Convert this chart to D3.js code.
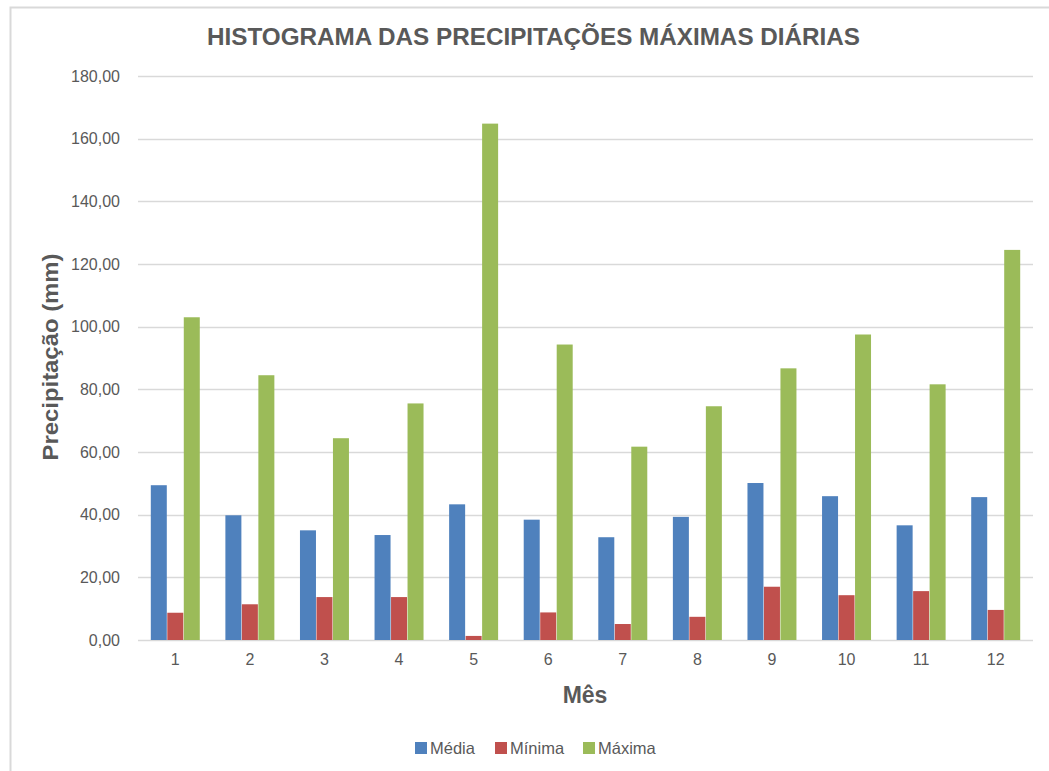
<!DOCTYPE html>
<html>
<head>
<meta charset="utf-8">
<script src="https://cdn.jsdelivr.net/npm/d3@7"></script>
<style>
  body { margin: 0; background: #fff; }
  svg { display: block; }
  text { font-family: "Liberation Sans", Arial, sans-serif; fill: #595959; }
</style>
</head>
<body>
<svg id="chart" width="1049" height="771"></svg>
<script>
let months = ['1', '2', '3', '4', '5', '6', '7', '8', '9', '10', '11', '12'];
let seriesNames = ['Média', 'Mínima', 'Máxima'];
let media  = [49.4, 39.8, 35.0, 33.5, 43.3, 38.4, 32.8, 39.3, 50.1, 45.9, 36.6, 45.6];
let minima = [8.7, 11.4, 13.7, 13.7, 1.3, 8.8, 5.1, 7.4, 17.0, 14.3, 15.6, 9.6];
let maxima = [103.0, 84.5, 64.4, 75.5, 164.8, 94.3, 61.7, 74.6, 86.7, 97.5, 81.6, 124.5];
let yTicks = [0, 20, 40, 60, 80, 100, 120, 140, 160, 180];

let colors = ['#4F81BD', '#C0504D', '#9BBB59'];
let seriesValues = [media, minima, maxima];

let svg = d3.select('#chart');

let margin = {left: 138, right: 1033, top: 76, bottom: 640};

let x = d3.scaleBand()
	.domain(months)
	.range([margin.left, margin.right])
	.paddingInner(0.33)
	.paddingOuter(0.165);

let xs = d3.scaleBand()
	.domain(seriesNames)
	.range([0, x.bandwidth()])
	.padding(0.03);

let y = d3.scaleLinear()
	.domain([0, 180])
	.range([margin.bottom, margin.top]);

let fmt = d => d3.format('.2f')(d).replace('.', ',');

// chart frame (left + top edges only, the rest is cropped)
svg.append('path')
	.attr('d', 'M10.5,771 V7.5 H1049')
	.attr('fill', 'none')
	.attr('stroke', '#d9d9d9')
	.attr('stroke-width', 2);

// gridlines
svg.append('g')
	.selectAll('line')
	.data(yTicks)
	.join('line')
	.attr('x1', margin.left)
	.attr('x2', margin.right)
	.attr('y1', d => Math.round(y(d)) + 0.5)
	.attr('y2', d => Math.round(y(d)) + 0.5)
	.attr('stroke', '#d9d9d9')
	.attr('stroke-width', 1.5);

// y axis labels
let yAxis = svg.append('g')
	.attr('transform', `translate(${margin.left - 18},0)`)
	.call(d3.axisLeft(y).tickValues(yTicks).tickFormat(fmt).tickSize(0).tickPadding(0));
yAxis.select('.domain').remove();
yAxis.selectAll('text')
	.attr('font-size', 16)
	.attr('fill', '#666')
	.style('font-family', '"Liberation Sans", Arial, sans-serif');

// x axis labels
let xAxis = svg.append('g')
	.attr('transform', `translate(0,${margin.bottom + 14})`)
	.call(d3.axisBottom(x).tickSize(0).tickPadding(0));
xAxis.select('.domain').remove();
xAxis.selectAll('text')
	.attr('font-size', 16)
	.attr('fill', '#666')
	.style('font-family', '"Liberation Sans", Arial, sans-serif');

// bars
seriesNames.forEach(function(name, s) {
	svg.append('g')
		.attr('fill', colors[s])
		.selectAll('rect')
		.data(seriesValues[s])
		.join('rect')
		.attr('x', (d, i) => x(months[i]) + xs(name))
		.attr('width', xs.bandwidth())
		.attr('y', d => y(d))
		.attr('height', d => y(0) - y(d));
});

// title
svg.append('text')
	.attr('x', 533.5)
	.attr('y', 45)
	.attr('text-anchor', 'middle')
	.attr('font-size', 23)
	.attr('font-weight', 'bold')
	.attr('textLength', 653)
	.attr('lengthAdjust', 'spacingAndGlyphs')
	.text('HISTOGRAMA DAS PRECIPITAÇÕES MÁXIMAS DIÁRIAS');

// axis titles
svg.append('text')
	.attr('transform', 'translate(58,357) rotate(-90)')
	.attr('text-anchor', 'middle')
	.attr('font-size', 22)
	.attr('font-weight', 'bold')
	.attr('textLength', 207)
	.attr('lengthAdjust', 'spacingAndGlyphs')
	.text('Precipitação (mm)');

svg.append('text')
	.attr('x', 585)
	.attr('y', 703)
	.attr('text-anchor', 'middle')
	.attr('font-size', 23)
	.attr('font-weight', 'bold')
	.text('Mês');

// legend
let legendX = [415, 495, 583];
let legend = svg.append('g')
	.selectAll('g')
	.data(seriesNames)
	.join('g')
	.attr('transform', (d, i) => `translate(${legendX[i]},742)`);
legend.append('rect')
	.attr('width', 12)
	.attr('height', 12)
	.attr('fill', (d, i) => colors[i]);
legend.append('text')
	.attr('x', 15)
	.attr('y', 12)
	.attr('font-size', 16.5)
	.text(d => d);
</script>
</body>
</html>
